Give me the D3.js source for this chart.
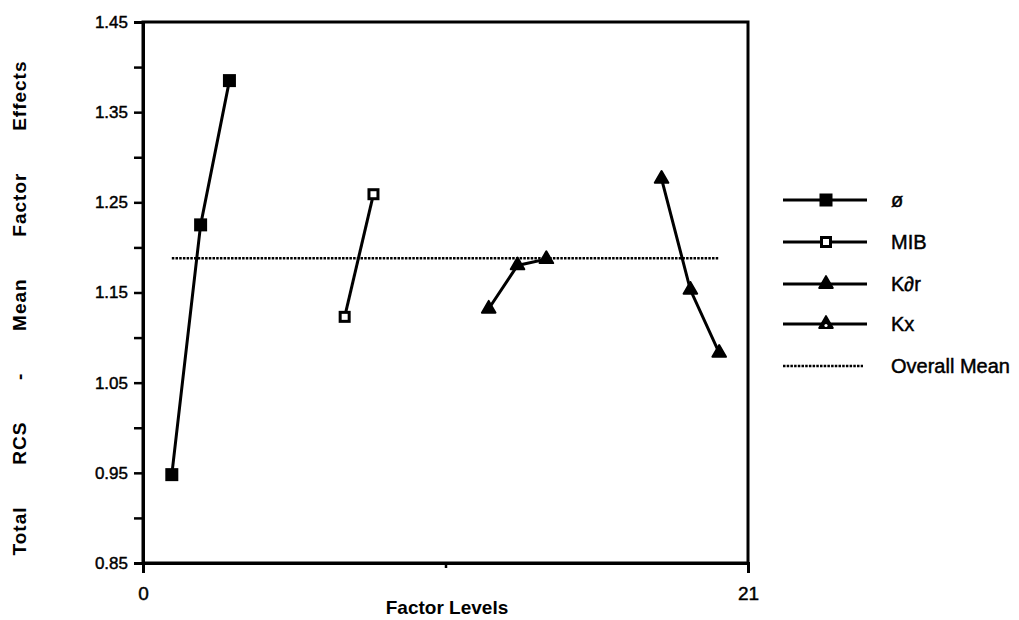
<!DOCTYPE html>
<html>
<head>
<meta charset="utf-8">
<script src="https://cdn.jsdelivr.net/npm/d3@7"></script>
<style>
  body { margin: 0; background: #fff; }
  svg { font-family: "Liberation Sans", Arial, sans-serif; }
  .heavy { stroke: #000; stroke-width: 0.45px; }
</style>
</head>
<body>
<div class="chartContainer"></div>
<script>
//factor levels and mean effects
var phiLevels = [1, 2, 3],
    phiValues = [0.948, 1.225, 1.385];
var mibLevels = [7, 8],
    mibValues = [1.123, 1.259];
var kdrLevels = [12, 13, 14],
    kdrValues = [1.132, 1.180, 1.187];
var kxLevels = [18, 19, 20],
    kxValues = [1.276, 1.153, 1.083];
var overallMean = 1.188,
    meanLevels = [1, 20];

var seriesNames = ["ø", "MIB", "K∂r", "Kx", "Overall Mean"];
var yTicks = [1.45, 1.35, 1.25, 1.15, 1.05, 0.95, 0.85];
var xTicks = [0, 21];

window.onload = setChart;

function setChart(){

    var width = 1019,
        height = 620;

    var svg = d3.select("div.chartContainer")
        .append("svg")
        .attr("width", width)
        .attr("height", height);

    //plot area scales
    var x = d3.scaleLinear().domain([0, 21]).range([143, 748]);
    var y = d3.scaleLinear().domain([0.85, 1.45]).range([563, 22]);

    //frame box
    svg.append("rect")
        .attr("x", x(0))
        .attr("y", y(1.45))
        .attr("width", x(21) - x(0))
        .attr("height", y(0.85) - y(1.45))
        .attr("fill", "none")
        .attr("stroke", "#000")
        .attr("stroke-width", 3);

    //left axis, ticks every 0.05
    var yAxis = d3.axisLeft(y)
        .tickValues(d3.range(0, 13).map(function(i){ return +(0.85 + i * 0.05).toFixed(2); }))
        .tickSize(9)
        .tickFormat(function(d){
            return yTicks.indexOf(d) >= 0 ? d3.format(".2f")(d) : "";
        });
    var gy = svg.append("g")
        .attr("transform", "translate(" + x(0) + ",0)")
        .call(yAxis);
    gy.select(".domain").attr("stroke-width", 3);
    gy.selectAll(".tick line").attr("stroke-width", 2.5);
    gy.selectAll(".tick text")
        .attr("x", -15)
        .attr("class", "heavy")
        .style("font-size", "17px")
        .attr("fill", "#000");

    //bottom axis
    var xAxis = d3.axisBottom(x)
        .tickValues([0, 10.5, 21])
        .tickSize(10)
        .tickFormat(function(d){ return xTicks.indexOf(d) >= 0 ? d : ""; });
    var gx = svg.append("g")
        .attr("transform", "translate(0," + y(0.85) + ")")
        .call(xAxis);
    gx.select(".domain").attr("stroke-width", 3);
    gx.selectAll(".tick line").attr("stroke-width", 2.5);
    gx.selectAll(".tick").filter(function(d){ return d == 10.5; })
        .select("line").attr("y2", 5);
    gx.selectAll(".tick text")
        .attr("y", 24)
        .attr("class", "heavy")
        .style("font-size", "19px")
        .attr("fill", "#000");

    //axis titles
    svg.append("text")
        .attr("x", 447)
        .attr("y", 614)
        .attr("text-anchor", "middle")
        .style("font-size", "19px")
        .style("font-weight", "bold")
        .text("Factor Levels");

    var yTitle = svg.append("text")
        .attr("transform", "translate(26,308) rotate(-90)")
        .attr("text-anchor", "middle")
        .style("font-size", "19px")
        .style("font-weight", "bold")
        .style("letter-spacing", "1px")
        .text("Total RCS - Mean Factor Effects");
    //spread the words to the length of the original title
    var titleLen = yTitle.node().getComputedTextLength();
    yTitle.style("word-spacing", ((495 - titleLen) / 5) + "px");

    //overall mean dotted line
    svg.append("line")
        .attr("x1", x(meanLevels[0]))
        .attr("x2", x(meanLevels[1]))
        .attr("y1", y(overallMean))
        .attr("y2", y(overallMean))
        .attr("stroke", "#000")
        .attr("stroke-width", 2.5)
        .attr("stroke-dasharray", "2.5,1.2");

    var line = d3.line()
        .x(function(d){ return x(d[0]); })
        .y(function(d){ return y(d[1]); });

    var series = [
        { levels: phiLevels, values: phiValues, marker: "fillSquare" },
        { levels: mibLevels, values: mibValues, marker: "openSquare" },
        { levels: kdrLevels, values: kdrValues, marker: "triangle" },
        { levels: kxLevels, values: kxValues, marker: "triangle" }
    ];

    series.forEach(function(s){
        var pts = d3.zip(s.levels, s.values);
        svg.append("path")
            .datum(pts)
            .attr("d", line)
            .attr("fill", "none")
            .attr("stroke", "#000")
            .attr("stroke-width", 3);
        pts.forEach(function(p){
            drawMarker(svg, x(p[0]), y(p[1]), s.marker);
        });
    });

    //legend
    var legendMarkers = ["fillSquare", "openSquare", "triangle", "openTriangle", null];
    var legendY = [200, 242, 284, 324, 366];
    seriesNames.forEach(function(name, i){
        var ly = legendY[i];
        var ln = svg.append("line")
            .attr("x1", 783)
            .attr("x2", i == 4 ? 863 : 867)
            .attr("y1", ly)
            .attr("y2", ly)
            .attr("stroke", "#000")
            .attr("stroke-width", i == 4 ? 2.5 : 3);
        if (i == 4) ln.attr("stroke-dasharray", "2.5,1.2");
        if (legendMarkers[i]) drawMarker(svg, 826, ly, legendMarkers[i]);
        svg.append("text")
            .attr("x", 891)
            .attr("y", ly + 7)
            .attr("class", "heavy")
            .style("font-size", "20px")
            .text(name);
    });
};

function drawMarker(svg, cx, cy, type){
    if (type == "fillSquare"){
        svg.append("rect")
            .attr("x", cx - 6.5).attr("y", cy - 6.5)
            .attr("width", 13).attr("height", 13)
            .attr("fill", "#000");
    } else if (type == "openSquare"){
        svg.append("rect")
            .attr("x", cx - 4.5).attr("y", cy - 4.5)
            .attr("width", 9).attr("height", 9)
            .attr("fill", "#fff")
            .attr("stroke", "#000")
            .attr("stroke-width", 3);
    } else {
        svg.append("path")
            .attr("d", d3.symbol().type(d3.symbolTriangle).size(80)())
            .attr("transform", "translate(" + cx + "," + cy + ")")
            .attr("fill", "#000")
            .attr("stroke", "#000")
            .attr("stroke-width", 2)
            .attr("stroke-linejoin", "round");
        if (type == "openTriangle"){
            svg.append("circle")
                .attr("cx", cx).attr("cy", cy + 1.5)
                .attr("r", 1.6)
                .attr("fill", "#fff");
        }
    }
};
</script>
</body>
</html>
